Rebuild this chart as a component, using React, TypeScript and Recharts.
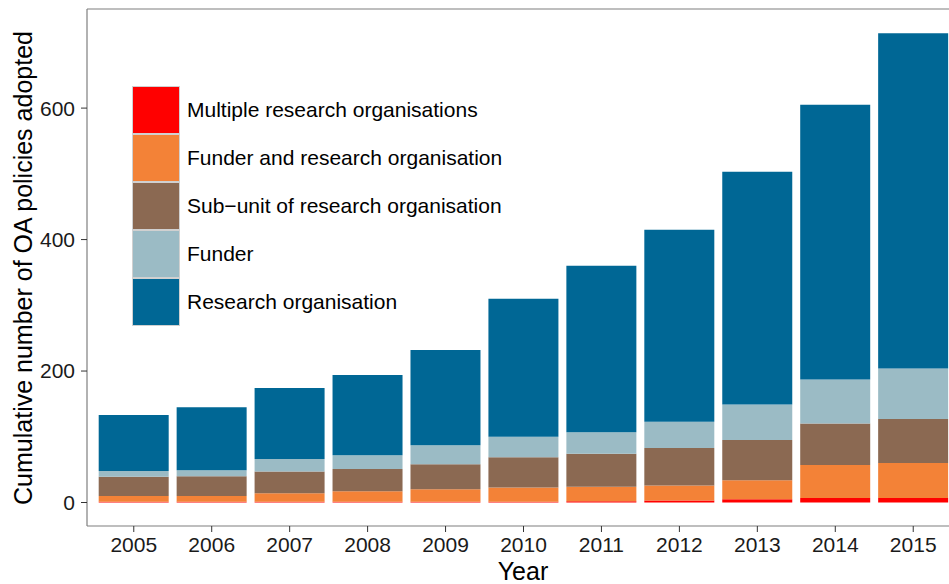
import { BarChart, Bar, XAxis, YAxis } from "recharts";

const years = ["2005", "2006", "2007", "2008", "2009", "2010", "2011", "2012", "2013", "2014", "2015"];
const multipleOrgs = [1, 1, 1, 1, 1, 1, 2, 3, 5, 7, 7];
const funderAndOrg = [9, 9, 13, 16, 19, 22, 22, 23, 29, 50, 53];
const subUnit = [29, 30, 33, 34, 38, 46, 50, 57, 61, 63, 67];
const funder = [9, 9, 19, 21, 29, 31, 33, 40, 54, 67, 77];
const researchOrg = [85, 96, 108, 122, 145, 210, 253, 292, 354, 418, 510];
const yTicks = [0, 200, 400, 600];

const series = [
  { key: "multiple", name: "Multiple research organisations", color: "#FF0000", values: multipleOrgs },
  { key: "funderOrg", name: "Funder and research organisation", color: "#F38237", values: funderAndOrg },
  { key: "subUnit", name: "Sub\u2212unit of research organisation", color: "#8B6952", values: subUnit },
  { key: "funder", name: "Funder", color: "#9BBBC5", values: funder },
  { key: "researchOrg", name: "Research organisation", color: "#006795", values: researchOrg },
];

const data = years.map((year, i) => {
  const row: Record<string, string | number> = { year };
  series.forEach((s) => {
    row[s.key] = s.values[i];
  });
  return row;
});

const FONT = "'Liberation Sans', Arial, Helvetica, sans-serif";
const BORDER = "#7f7f7f";

function YTitle() {
  return (
    <text
      x={23}
      y={268}
      transform="rotate(-90 23 268)"
      textAnchor="middle"
      dominantBaseline="central"
      fontSize={25}
      fill="#000"
      fontFamily={FONT}
    >
      Cumulative number of OA policies adopted
    </text>
  );
}

function XTitle() {
  return (
    <text x={523} y={580} textAnchor="middle" fontSize={25} fill="#000" fontFamily={FONT}>
      Year
    </text>
  );
}

export default function App() {
  return (
    <div
      style={{
        position: "fixed",
        left: 0,
        top: 0,
        width: 949,
        height: 584,
        overflow: "hidden",
        background: "#fff",
        fontFamily: FONT,
      }}
    >
      <BarChart
        width={980}
        height={584}
        data={data}
        margin={{ top: 8, right: 20, bottom: 0, left: 0 }}
        barCategoryGap="5%"
      >
        <XAxis
          dataKey="year"
          height={58}
          padding={{ left: 7.8, right: 7.8 }}
          axisLine={{ stroke: BORDER, strokeWidth: 1.2 }}
          tickLine={{ stroke: "#333" }}
          tickSize={6}
          tickMargin={5}
          tick={{ fontSize: 21, fill: "#1a1a1a", fontFamily: FONT }}
          interval={0}
          label={{ content: () => <XTitle /> }}
        />
        <XAxis
          xAxisId="top"
          orientation="top"
          dataKey="year"
          height={1}
          tick={false}
          tickLine={false}
          axisLine={{ stroke: BORDER, strokeWidth: 1.2 }}
        />
        <YAxis
          width={87}
          domain={[-35.75, 750.75]}
          allowDataOverflow
          ticks={yTicks}
          axisLine={{ stroke: BORDER, strokeWidth: 1.2 }}
          tickLine={{ stroke: "#333" }}
          tickSize={6}
          tickMargin={6}
          tick={{ fontSize: 21, fill: "#1a1a1a", fontFamily: FONT }}
          label={{ content: () => <YTitle /> }}
        />
        {series.map((s) => (
          <Bar
            key={s.key}
            dataKey={s.key}
            name={s.name}
            stackId="a"
            fill={s.color}
            isAnimationActive={false}
          />
        ))}
      </BarChart>
      <div style={{ position: "absolute", left: 132, top: 86 }}>
        {series.map((s) => (
          <div key={s.key} style={{ display: "flex", alignItems: "center", height: 48 }}>
            <div
              style={{
                width: 48,
                height: 48,
                boxSizing: "border-box",
                border: "1.5px solid #d0d0d0",
                background: s.color,
              }}
            />
            <span style={{ marginLeft: 7, fontSize: 21, color: "#000", whiteSpace: "nowrap" }}>
              {s.name}
            </span>
          </div>
        ))}
      </div>
    </div>
  );
}
